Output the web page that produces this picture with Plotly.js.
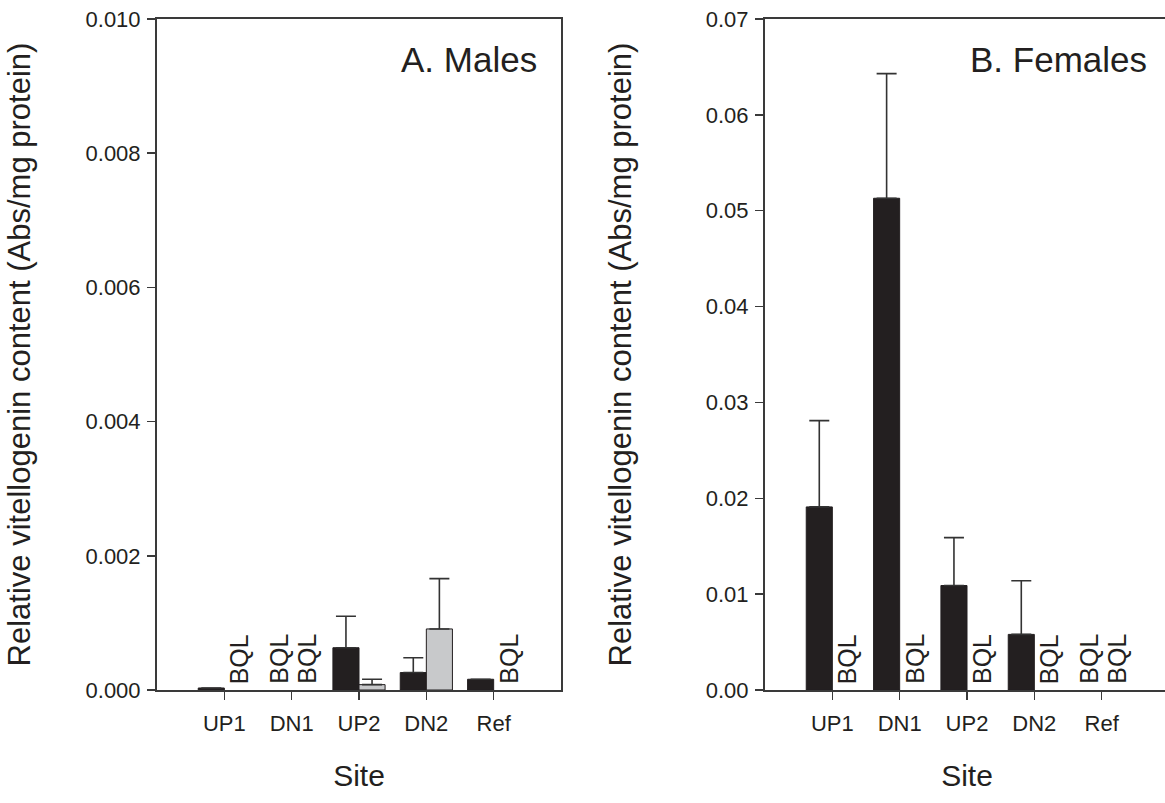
<!DOCTYPE html>
<html>
<head>
<meta charset="utf-8">
<script src="https://cdn.plot.ly/plotly-3.0.1.min.js"></script>
<style>
  html, body { margin: 0; padding: 0; background: #fff; overflow: hidden; }
  #chart { width: 1170px; height: 803px; }
</style>
</head>
<body>
<div id="chart"></div>
<script>
// ---- data ----
const sites = ['UP1', 'DN1', 'UP2', 'DN2', 'Ref'];

// A. Males
const maleBlack      = [0.00003, null, 0.00063, 0.00026, 0.00016];
const maleBlackErr   = [0, 0, 0.00047, 0.00022, 0];
const maleGrey       = [null, null, 0.00008, 0.00091, null];
const maleGreyErr    = [0, 0, 0.00008, 0.00075, 0];
const maleBlackLabel = ['', 'BQL', '', '', ''];
const maleGreyLabel  = ['BQL', 'BQL', '', '', 'BQL'];

// B. Females
const femaleBlack      = [0.0191, 0.0513, 0.0109, 0.0058, null];
const femaleBlackErr   = [0.0090, 0.0130, 0.0050, 0.0056, 0];
const femaleGrey       = [null, null, null, null, null];
const femaleGreyErr    = [0, 0, 0, 0, 0];
const femaleBlackLabel = ['', '', '', '', 'BQL'];
const femaleGreyLabel  = ['BQL', 'BQL', 'BQL', 'BQL', 'BQL'];

const panelLabels = ['A. Males', 'B. Females'];
const yTitle = 'Relative vitellogenin content (Abs/mg protein)';
const xTitle = 'Site';

// ---- style ----
const FONT = 'Arial, "Liberation Sans", Helvetica, sans-serif';
const INK = '#231f20';
const DARK = '#231f20';
const GREY = '#c8c9cb';
const AXC = '#3a3a3a';

function barTrace(y, err, color, xa, ya) {
  return {
    type: 'bar', x: sites, y: y, xaxis: xa, yaxis: ya,
    marker: { color: color, line: { color: INK, width: 1 } },
    error_y: { type: 'data', array: err, arrayminus: err.map(() => 0), symmetric: false,
               visible: true, color: '#333', thickness: 1.6, width: 10 },
    showlegend: false, hoverinfo: 'x+y'
  };
}

const traces = [
  barTrace(maleBlack, maleBlackErr, DARK, 'x', 'y'),
  barTrace(maleGrey, maleGreyErr, GREY, 'x', 'y'),
  barTrace(femaleBlack, femaleBlackErr, DARK, 'x2', 'y2'),
  barTrace(femaleGrey, femaleGreyErr, GREY, 'x2', 'y2')
];

const annotations = [];
function addBQL(labels, xa, ya, shift) {
  labels.forEach((t, i) => {
    if (!t) return;
    annotations.push({
      text: t, x: sites[i], y: 0, xref: xa, yref: ya,
      xanchor: 'center', yanchor: 'bottom', textangle: -90,
      xshift: shift, yshift: 4, showarrow: false,
      font: { family: FONT, size: 25, color: INK }
    });
  });
}
addBQL(maleBlackLabel, 'x', 'y', -13);
addBQL(maleGreyLabel, 'x', 'y', 15);
addBQL(femaleBlackLabel, 'x2', 'y2', -13);
addBQL(femaleGreyLabel, 'x2', 'y2', 15);

annotations.push({
  text: panelLabels[0], xref: 'paper', yref: 'paper', x: 539 / 1170, y: (803 - 60) / 803,
  xanchor: 'right', yanchor: 'middle', showarrow: false,
  font: { family: FONT, size: 35, color: INK }
});
annotations.push({
  text: panelLabels[1], xref: 'paper', yref: 'paper', x: 1149 / 1170, y: (803 - 60) / 803,
  xanchor: 'right', yanchor: 'middle', showarrow: false,
  font: { family: FONT, size: 35, color: INK }
});

const tickFont = { family: FONT, size: 22, color: INK };
const xTitleFont = { family: FONT, size: 30, color: INK };
const yTitleFont = { family: FONT, size: 31, color: INK };

function xAxis(dom, anchor) {
  return {
    domain: dom, anchor: anchor, type: 'category', categoryorder: 'array', categoryarray: sites,
    range: [-1, 5], showline: true, mirror: true, linecolor: AXC, linewidth: 2,
    ticks: 'outside', ticklen: 8, tickwidth: 1.5, tickcolor: AXC, ticklabelstandoff: 5,
    showgrid: false, zeroline: false, tickfont: tickFont,
    title: { text: xTitle, font: xTitleFont, standoff: 30 }, fixedrange: true
  };
}
function yAxis(anchor, range, dtick, fmt, standoff) {
  return {
    domain: [113 / 803, 784 / 803], anchor: anchor, range: range, dtick: dtick, tick0: 0,
    tickformat: fmt, showline: true, mirror: true, linecolor: AXC, linewidth: 2,
    ticks: 'outside', ticklen: 8, tickwidth: 1.5, tickcolor: AXC, ticklabelstandoff: 2,
    showgrid: false, zeroline: false, tickfont: tickFont,
    title: { text: yTitle, font: yTitleFont, standoff: standoff }, fixedrange: true
  };
}

const layout = {
  width: 1170, height: 803,
  margin: { l: 0, r: 0, t: 0, b: 0 },
  paper_bgcolor: '#fff', plot_bgcolor: '#fff',
  barmode: 'group', bargap: 0.225, bargroupgap: 0,
  xaxis: xAxis([157 / 1170, 561 / 1170], 'y'),
  yaxis: yAxis('x', [0, 0.010], 0.002, '.3f', 46),
  xaxis2: xAxis([765 / 1170, 1169 / 1170], 'y2'),
  yaxis2: yAxis('x2', [0, 0.07], 0.01, '.2f', 65),
  annotations: annotations,
  font: { family: FONT, color: INK }
};

Plotly.newPlot('chart', traces, layout, { displayModeBar: false, staticPlot: true });
</script>
</body>
</html>
